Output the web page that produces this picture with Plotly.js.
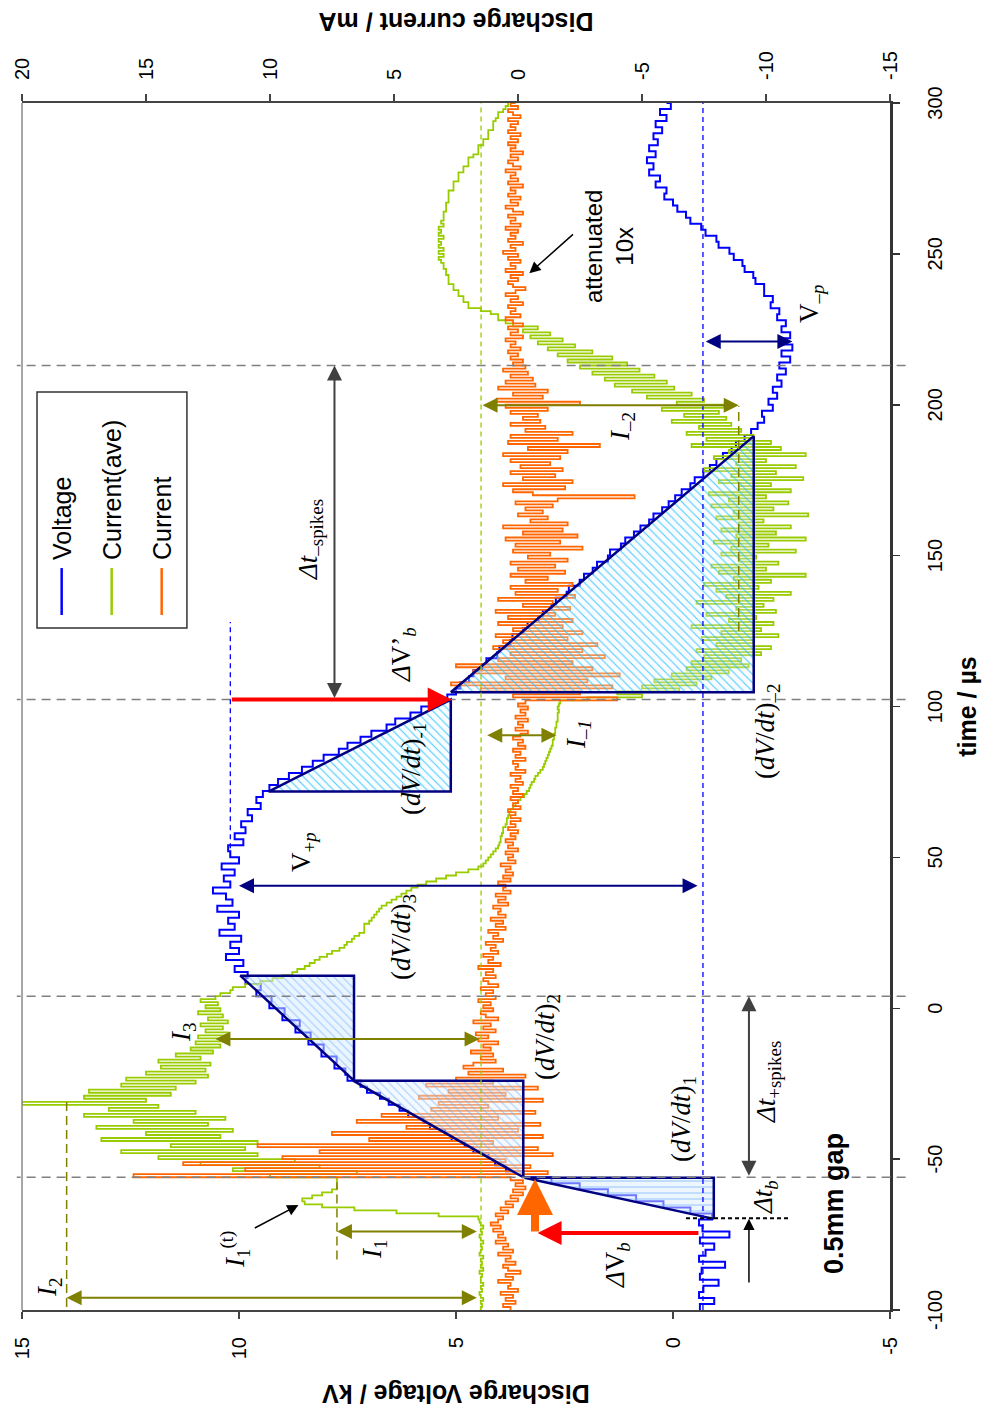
<!DOCTYPE html>
<html>
<head>
<meta charset="utf-8">
<script src="https://cdn.plot.ly/plotly-3.0.1.min.js"></script>
<style>
html,body{margin:0;padding:0;width:1002px;height:1426px;overflow:hidden;background:#fff;}
#wrap{position:absolute;left:0;top:0;width:1426px;height:1002px;transform-origin:0 0;transform:translateY(1426px) rotate(-90deg);}
#chart{width:1426px;height:1002px;}
</style>
</head>
<body>
<div id="wrap"><div id="chart"></div></div>
<script>
// ---------------- DATA ----------------
const T_START = -100;          // µs, first sample
const V_STEP = 2;              // µs between voltage samples
const I_STEP = 1;              // µs between current samples

const seriesNames = ['Voltage', 'Current(ave)', 'Current'];

const timeTickVals = [-100, -50, 0, 50, 100, 150, 200, 250, 300];
const timeTickText = ['-100', '-50', '0', '50', '100', '150', '200', '250', '300'];
const voltTickVals = [-5, 0, 5, 10, 15];
const voltTickText = ['-5', '0', '5', '10', '15'];
const currTickVals = [-15, -10, -5, 0, 5, 10, 15, 20];
const currTickText = ['-15', '-10', '-5', '0', '5', '10', '15', '20'];

const voltage_kV = [
-0.62,-0.95,-0.6,-0.7,-1.05,-0.62,-0.66,-1.2,-0.6,-0.75,-0.95,-0.62,-1.3,-0.68,-0.6,-0.9,
-0.4,0.22,0.85,1.5,2.15,2.8,3.45,
3.85,4.1,4.25,4.6,4.8,5.1,5.25,5.6,5.75,6.1,6.3,6.55,6.75,7.05,7.2,7.5,
7.55,7.8,7.75,8.1,8.05,8.4,8.35,8.7,8.6,9.0,8.95,9.3,9.25,9.6,9.5,9.85,9.8,
10.1,9.9,10.3,10.0,10.2,9.95,10.45,10.1,10.25,10.0,10.5,10.15,10.3,10.6,10.2,
10.35,10.1,10.4,10.0,10.2,10.25,9.9,10.1,9.85,9.95,9.7,9.8,9.5,9.6,9.45,9.3,
9.1,8.85,8.55,8.3,8.05,7.7,7.5,7.2,6.95,6.6,6.4,6.05,5.8,5.5,5.2,
5.0,4.9,4.7,4.6,4.4,4.3,4.05,4.0,3.75,3.7,3.45,3.35,3.1,3.0,2.8,2.7,2.45,2.4,2.15,2.05,1.85,1.75,1.5,1.45,1.2,1.1,0.9,0.75,0.55,0.45,0.25,0.1,-0.05,-0.2,-0.4,-0.5,-0.7,-0.85,-1.0,-1.15,-1.35,-1.45,-1.65,-1.8,
-1.95,-2.1,-2.05,-2.3,-2.2,-2.4,-2.3,-2.5,-2.4,-2.6,-2.45,-2.7,-2.5,-2.75,-2.55,-2.7,-2.5,-2.6,-2.4,-2.45,-2.25,-2.3,-2.1,-2.1,-1.9,-1.85,-1.65,-1.6,-1.4,-1.3,-1.05,-1.0,-0.75,-0.65,-0.4,-0.3,-0.1,0.0,0.2,0.15,0.4,0.3,0.55,0.45,0.6,0.4,0.55,0.35,0.45,0.25,0.4,0.15,0.3,0.05,0.15
];

const currentAve_mA = [
1.5,1.45,1.5,1.4,1.5,1.55,1.45,1.5,1.4,1.5,1.5,1.45,1.55,1.4,1.5,1.45,1.5,1.4,1.55,1.5,1.45,1.5,1.4,1.5,1.55,1.45,1.5,1.4,1.5,1.55,
1.6,3.2,4.9,6.6,7.9,8.6,8.7,8.3,7.9,7.5,7.3,7.3,7.3,7.3,
10.0,6.5,11.5,8.0,12.8,9.0,14.5,10.5,16.0,11.0,14.0,10.5,16.8,12.0,15.0,11.5,17.0,12.5,15.5,11.8,
17.5,13.0,16.5,14.5,20.0,15.0,17.5,14.0,17.3,13.8,16.0,13.0,15.8,12.5,15.0,12.6,14.4,12.4,14.5,12.8,
13.8,12.3,13.2,12.0,13.0,11.8,12.9,11.7,12.6,11.9,12.8,11.7,12.5,11.9,12.9,12.0,12.6,12.1,12.8,12.2,12.0,11.6,
11.5,11.0,10.4,9.9,9.5,9.1,8.9,8.6,8.4,8.2,8.0,7.7,7.5,7.2,7.0,6.9,6.7,6.6,6.4,6.2,
6.2,6.2,6.0,5.9,5.8,5.7,5.6,5.5,5.3,5.1,4.9,4.7,4.5,4.3,4.05,3.7,3.3,2.9,2.5,2.0,
1.6,1.4,1.3,1.2,1.1,1.0,0.9,0.8,0.75,0.7,0.7,0.65,0.6,0.6,0.5,0.45,0.45,0.4,0.35,0.3,
0.2,0.1,0.0,-0.1,-0.25,-0.35,-0.45,-0.5,-0.55,-0.65,-0.7,-0.8,-0.9,-1.0,-1.05,-1.1,-1.15,-1.2,-1.25,-1.3,
-1.35,-1.4,-1.4,-1.45,-1.45,-1.5,-1.5,-1.55,-1.55,-1.6,-1.6,-1.6,-1.65,-1.6,-1.65,-1.7,
-2.8,-5.0,-4.0,-6.5,-5.0,-7.2,-5.5,-7.8,-6.2,-8.5,-6.8,-9.3,-7.0,-9.0,-7.5,-9.8,-7.2,-10.2,-8.0,-9.5,
-7.4,-10.5,-8.2,-9.8,-7.0,-10.3,-8.5,-9.6,-7.6,-10.4,-8.8,-9.9,-7.2,-10.3,-8.4,-11.0,-8.0,-9.7,-7.5,-10.2,
-8.7,-11.6,-8.1,-10.0,-7.8,-10.5,-8.9,-9.6,-8.2,-11.2,-8.6,-10.1,-7.9,-11.6,-8.8,-10.4,-8.2,-11.0,-8.9,-9.9,
-8.0,-11.7,-8.7,-10.3,-7.8,-10.9,-8.5,-10.0,-7.7,-11.0,-8.9,-10.2,-8.1,-11.5,-8.6,-10.4,-7.5,-11.2,-8.8,-10.0,
-7.9,-11.6,-8.5,-10.6,-7.0,-10.2,-7.6,-9.5,-6.8,-9.0,-7.3,-8.6,-6.2,-8.4,-6.7,-8.1,-5.8,-8.3,-6.4,
-7.5,-5.2,-7.0,-4.6,-6.3,-3.9,-6.0,-3.5,-5.5,-3.0,-4.9,-2.5,-4.4,-2.0,-3.8,-1.6,-3.0,-1.2,-2.3,-0.8,
-1.8,-0.5,-1.3,-0.2,-0.8,0.2,0.5,0.8,0.8,1.1,1.5,2.0,2.0,2.2,2.2,2.4,2.4,2.6,2.6,2.8,
2.8,2.8,2.9,2.9,3.0,3.0,3.1,3.2,3.0,3.2,3.0,3.2,3.1,3.2,3.0,3.2,3.1,3.2,3.0,3.1,
3.0,3.0,3.0,2.9,2.9,2.9,2.8,2.8,2.8,2.8,2.6,2.6,2.6,2.4,2.4,2.4,2.2,2.2,2.0,2.0,
2.0,1.8,1.6,1.6,1.6,1.4,1.4,1.2,1.2,1.2,1.0,1.0,1.0,0.9,0.8,0.8,0.6,0.5,0.4,0.4
];

const current_mA = [
0.3,0.6,0.1,0.5,0.2,0.7,0.0,0.4,0.3,0.8,0.2,0.5,-0.1,0.4,0.6,0.1,0.5,0.3,0.8,0.2,
0.6,0.4,0.9,0.5,0.8,0.6,1.0,0.7,1.1,0.8,0.6,0.9,0.4,0.7,0.2,0.5,0.0,0.3,-0.2,0.2,
-0.3,0.1,-0.2,0.3,
15.5,-1.2,11.0,-0.5,13.5,0.5,9.5,-1.4,8.0,-0.8,10.5,1.0,6.0,-1.0,7.5,0.0,4.5,-0.9,6.5,0.8,
5.5,-0.7,3.5,1.2,3.2,-1.0,4.0,0.5,2.8,-0.8,3.7,1.0,2.5,-0.3,2.0,0.6,2.2,
1.8,0.9,1.5,1.0,1.9,1.1,1.4,0.8,1.6,1.2,1.7,0.9,1.4,1.1,1.8,0.8,1.3,1.5,1.0,1.4,
1.1,1.6,0.9,1.3,1.0,1.5,0.8,1.2,1.4,0.9,1.3,1.0,1.6,0.7,1.2,1.0,1.4,0.8,1.1,0.9,
1.3,0.6,1.0,0.8,1.2,0.5,0.9,0.6,1.1,0.5,0.8,0.7,1.0,0.4,0.8,0.5,0.9,0.3,0.6,0.5,
0.8,0.3,0.6,0.2,0.5,0.3,0.7,0.1,0.4,0.2,0.5,0.0,0.4,0.2,0.5,0.1,0.3,0.0,0.4,0.1,
0.3,-0.1,0.3,0.1,0.4,-0.1,0.2,0.0,0.3,-0.2,0.2,0.0,0.3,-0.2,0.1,-0.1,0.3,-0.3,0.1,0.0,
0.2,-0.3,0.1,-0.1,0.2,-0.3,0.0,-0.2,0.2,-0.1,-0.4,0.1,-0.2,0.0,-0.4,0.1,-0.3,-0.1,-0.4,0.0,
-0.3,
-4.0,0.2,-2.5,1.5,-3.8,2.7,-2.8,0.5,-4.1,1.8,-3.0,2.5,-2.2,0.8,-3.5,0.3,-2.6,1.0,-3.2,0.6,
-2.0,0.9,-2.6,0.2,-1.8,0.8,-2.2,0.4,-1.5,0.9,-2.1,-0.2,-1.4,0.8,-2.3,0.1,-1.6,0.3,-2.2,-0.3,
-1.2,0.3,-1.9,0.0,-1.5,0.3,-2.0,-0.4,-1.3,0.2,-2.6,0.1,-1.7,0.5,-2.4,-0.2,-1.8,0.6,-2.0,-0.5,
-1.2,0.0,-1.0,-0.3,-1.4,0.1,-1.6,-4.7,-0.6,0.2,-1.9,0.6,-2.2,-0.2,-1.5,0.3,-1.8,-0.1,-1.3,0.3,
-1.7,0.6,-2.0,-0.4,-3.3,0.4,-1.6,0.3,-2.2,-0.3,-1.1,0.3,-0.9,-0.2,-0.8,0.3,-1.2,0.5,-2.5,0.86,
-1.0,0.2,-1.2,0.8,-0.7,0.5,-0.6,0.3,-0.4,0.6,-0.3,0.2,-0.2,0.3,
0.0,0.4,-0.1,0.3,0.1,0.5,-0.2,0.3,0.0,0.4,-0.2,0.2,0.5,-0.1,0.3,0.1,0.4,-0.2,0.3,0.0,
0.5,0.1,-0.3,0.2,0.4,0.0,0.3,-0.2,0.5,0.1,0.3,-0.1,0.4,0.0,0.6,0.1,0.3,-0.2,0.4,0.1,
0.3,0.0,0.5,-0.1,0.3,0.1,0.4,-0.2,0.2,0.5,0.0,0.3,-0.1,0.4,0.1,0.3,-0.2,0.4,0.0,0.3,
0.1,0.5,-0.1,0.2,0.4,0.0,0.3,-0.2,0.3,0.1,0.4,0.0,0.3,-0.1,0.4,0.1,0.3,0.0,0.4,-0.1,
0.2,0.4,0.0,0.3,0.1
];

// slope triangles (time µs, voltage kV)
const tri1_t = [-69.8, -56.2, -56.2], tri1_v = [-0.94, -0.94, 3.42];
const tri2_t = [-56.0, -24.0, -24.0], tri2_v = [3.45, 3.45, 7.37];
const tri3_t = [-24.0, 10.8, 10.8],   tri3_v = [7.35, 7.35, 9.97];
const triM1_t = [71.8, 71.8, 102.3],  triM1_v = [9.32, 5.12, 5.12];
const triM2_t = [104.7, 104.7, 189.6], triM2_v = [5.12, -1.86, -1.86];

// reference levels
const V_base = -0.69, V_peak = 10.2, I_base = 1.49;
const I1_level = 7.3, I2_level = 18.2, Im2_level = -8.9;
const spikeTimes = [-56, 4, 102.3, 213];

// ---------------- BUILD ----------------
const tV = voltage_kV.map((_, i) => T_START + i * V_STEP);
const tI = current_mA.map((_, i) => T_START + i * I_STEP);
const tIa = currentAve_mA.map((_, i) => T_START + i * I_STEP);

const SANS = 'Liberation Sans, Arial, Helvetica, sans-serif';
const SERIF = 'Liberation Serif, Times New Roman, serif';
const NAVY = '#000080', OLIVE = '#808000', RED = '#FF0000', ORANGE = '#FF6600', GREEN = '#99CC00', BLUE = '#0000FF';
const seriesColors = [BLUE, GREEN, ORANGE];

function tri(t, v, shape, fg, bg, sol) {
  return {x: t.concat([t[0]]), y: v.concat([v[0]]), yaxis: 'y3', mode: 'lines', fill: 'toself',
    line: {color: NAVY, width: 2.5}, fillcolor: bg,
    fillpattern: {shape: shape, fgcolor: fg, bgcolor: bg, size: 6, solidity: sol, fillmode: 'replace'},
    showlegend: false, hoverinfo: 'skip'};
}

const traces = [
  {x: tV, y: voltage_kV, name: seriesNames[0], mode: 'lines', line: {color: BLUE, width: 2, shape: 'hv'}, yaxis: 'y', showlegend: false},
  {x: tIa, y: currentAve_mA, name: seriesNames[1], mode: 'lines', line: {color: GREEN, width: 1.8, shape: 'hv'}, yaxis: 'y2', showlegend: false},
  {x: tI, y: current_mA, name: seriesNames[2], mode: 'lines', line: {color: ORANGE, width: 1.8, shape: 'hv'}, yaxis: 'y2', showlegend: false},
  tri(tri1_t, tri1_v, '|', 'rgba(110,175,255,0.6)', 'rgba(220,238,255,0.5)', 0.2),
  tri(tri2_t, tri2_v, '/', 'rgba(110,175,255,0.6)', 'rgba(230,242,255,0.45)', 0.18),
  tri(tri3_t, tri3_v, '/', 'rgba(110,175,255,0.6)', 'rgba(215,235,255,0.5)', 0.18),
  tri(triM1_t, triM1_v, '/', 'rgba(30,190,255,0.8)', 'rgba(235,248,255,0.35)', 0.18),
  tri(triM2_t, triM2_v, '/', 'rgba(30,190,255,0.8)', 'rgba(235,248,255,0.3)', 0.18)
];

function hline(xa, xb, y, yref, color, width, dash) {
  return {type: 'line', xref: 'x', yref: yref, x0: xa, x1: xb, y0: y, y1: y, line: {color, width, dash}, layer: 'above'};
}
const shapes = [];
spikeTimes.forEach(t => shapes.push({type: 'line', xref: 'x', yref: 'paper', x0: t, x1: t, y0: -0.018, y1: 1.006,
  line: {color: '#808080', width: 1.6, dash: '9px,6px'}, layer: 'above'}));
shapes.push(hline(-100, 300, V_base, 'y', BLUE, 1.3, '5px,4px'));
shapes.push(hline(50, 128, V_peak, 'y', BLUE, 1.3, '5px,4px'));
shapes.push(hline(-70, 300, I_base, 'y2', GREEN, 1.3, '5px,4px'));
shapes.push(hline(-83.3, -57.7, I1_level, 'y2', OLIVE, 1.5, '9px,5px'));
shapes.push(hline(-99, -31, I2_level, 'y2', OLIVE, 1.5, '9px,5px'));
shapes.push(hline(125, 199.5, Im2_level, 'y2', OLIVE, 1.5, '9px,5px'));
shapes.push({type: 'line', xref: 'x', yref: 'y', x0: -69.6, x1: -69.6, y0: -0.3, y1: -2.65, line: {color: '#000', width: 2, dash: '4px,3px'}, layer: 'above'});
// frame line on the unused side
shapes.push({type: 'line', xref: 'paper', yref: 'paper', x0: 0, x1: 1, y0: 1, y1: 1, line: {color: '#888', width: 1.5}, layer: 'above'});

// hand-drawn legend box (paper coordinates)
const LEG = {x0: 0.565, x1: 0.7606, y0: 0.810, y1: 0.9827, lx0: 0.5758, lx1: 0.6147, tx: 0.6197, ys: [0.9543, 0.8967, 0.8391]};
shapes.push({type: 'rect', xref: 'paper', yref: 'paper', x0: LEG.x0, x1: LEG.x1, y0: LEG.y0, y1: LEG.y1,
  line: {color: '#333', width: 1.5}, fillcolor: '#fff', layer: 'above'});
seriesNames.forEach((n, i) => shapes.push({type: 'line', xref: 'paper', yref: 'paper', x0: LEG.lx0, x1: LEG.lx1,
  y0: LEG.ys[i], y1: LEG.ys[i], line: {color: seriesColors[i], width: 2.5}, layer: 'above'}));

function arrow(x, y, ax, ay, yref, color, width, size, both) {
  return {x, y, ax, ay, xref: 'x', yref, axref: 'x', ayref: yref, text: '', showarrow: true,
    arrowhead: 2, arrowsize: size, arrowwidth: width, arrowcolor: color,
    arrowside: both ? 'end+start' : 'end', startarrowhead: 2, startarrowsize: size};
}
function label(x, y, text, size, family, color) {
  return {x, y, xref: 'x', yref: 'y', text, showarrow: false,
    font: {family: family || SERIF, size: size || 27, color: color || '#000'}, xanchor: 'center', yanchor: 'middle'};
}

const annotations = [
  arrow(-95.9, I2_level, -95.9, 1.6, 'y2', OLIVE, 2, 1.5, true),
  arrow(-74, I1_level, -74, 1.6, 'y2', OLIVE, 2, 1.5, true),
  arrow(-10.2, 12.2, -10.2, I_base, 'y2', OLIVE, 2, 1.5, true),
  arrow(90.5, -1.55, 90.5, 1.3, 'y2', OLIVE, 2, 1.5, true),
  arrow(199.8, Im2_level, 199.8, I_base, 'y2', OLIVE, 2, 1.5, true),
  arrow(40.6, 10.0, 40.6, -0.6, 'y', NAVY, 2, 1.5, true),
  arrow(221, -2.75, 221, -0.72, 'y', NAVY, 2, 1.5, true),
  arrow(213, 7.8, 102.3, 7.8, 'y', '#404040', 2, 1.5, true),
  arrow(4, -1.75, -56, -1.75, 'y', '#404040', 2, 1.5, true),
  arrow(-69.8, -1.75, -91.4, -1.75, 'y', '#000', 1.5, 1.5, false),
  arrow(-56.6, 3.18, -74.5, 3.18, 'y', ORANGE, 8, 0.9, false),
  arrow(-74.5, 3.12, -74.5, -0.62, 'y', RED, 4, 1.2, false),
  arrow(102.3, 5.1, 102.3, V_peak, 'y', RED, 4, 1.2, false),
  arrow(-65.2, 8.63, -73.1, 9.67, 'y', '#000', 1.5, 1.5, false),
  arrow(243.6, 3.31, 256.9, 2.27, 'y', '#000', 1.5, 1.5, false),

  label(-92.4, 14.37, '<i>I</i><sub>2</sub>'),
  label(-79.8, 10.1, '<i>I</i><sub>1</sub><sup>(t)</sup>'),
  label(-79.8, 6.9, '<i>I</i><sub>1</sub>'),
  label(-8.1, 11.3, '<i>I</i><sub>3</sub>'),
  label(-85, 1.29, '<i>Δ</i>V<sub><i>b</i></sub>'),
  label(-62.5, -2.11, '<i>Δt</i><sub><i>b</i></sub>'),
  label(-64.8, -3.72, '<b>0.5mm gap</b>', 27, SANS),
  label(-24.4, -2.2, '<i>Δt</i><sub>+spikes</sub>'),
  label(-36.6, -0.23, '(<i>dV</i>/<i>dt</i>)<sub>1</sub>'),
  label(-9.5, 2.9, '(<i>dV</i>/<i>dt</i>)<sub>2</sub>'),
  label(23.7, 6.22, '(<i>dV</i>/<i>dt</i>)<sub>3</sub>'),
  label(79.4, 6.0, '(<i>dV</i>/<i>dt</i>)<sub>-1</sub>'),
  label(91.7, -2.16, '(<i>dV</i>/<i>dt</i>)<sub>–2</sub>'),
  label(51.9, 8.52, 'V<sub>+<i>p</i></sub>'),
  label(117.2, 6.22, '<i>Δ</i>V’<sub><i>b</i></sub>'),
  label(155.4, 8.36, '<i>Δt</i><sub>–spikes</sub>'),
  label(90.7, 2.2, '<i>I</i><sub><i>–1</i></sub>'),
  label(192.9, 1.17, '<i>I</i><sub>–2</sub>'),
  label(233.3, -3.19, 'V<sub>–<i>p</i></sub>'),
  label(252.6, 1.47, 'attenuated<br>10x', 24, SANS)
];
seriesNames.forEach((n, i) => annotations.push({x: LEG.tx, y: LEG.ys[i], xref: 'paper', yref: 'paper', text: n,
  showarrow: false, xanchor: 'left', yanchor: 'middle', font: {family: SANS, size: 25, color: '#000'}}));

const axisCommon = {showgrid: false, zeroline: false, showline: true, ticks: 'outside', ticklen: 7, tickwidth: 1.5,
  tickmode: 'array', tickfont: {family: SANS, size: 20, color: '#000'}};

const layout = {
  width: 1426, height: 1002,
  margin: {l: 116, r: 103, t: 22, b: 112},
  paper_bgcolor: '#fff', plot_bgcolor: '#fff',
  showlegend: false,
  xaxis: Object.assign({}, axisCommon, {range: [-100, 300], tickvals: timeTickVals, ticktext: timeTickText,
    linecolor: '#333', linewidth: 2.5, tickcolor: '#333', ticklabelstandoff: 18,
    title: {text: '<b>time / µs</b>', font: {family: SANS, size: 25, color: '#000'}, standoff: 14}}),
  yaxis: Object.assign({}, axisCommon, {range: [-5, 15], tickvals: voltTickVals, ticktext: voltTickText,
    linecolor: '#444', linewidth: 2, tickcolor: '#444', ticklabelstandoff: 14,
    title: {text: '<b>Discharge Voltage / kV</b>', font: {family: SANS, size: 25, color: '#000'}, standoff: 18}}),
  yaxis2: Object.assign({}, axisCommon, {range: [-15, 20], tickvals: currTickVals, ticktext: currTickText,
    overlaying: 'y', side: 'right', anchor: 'x',
    linecolor: '#444', linewidth: 2, tickcolor: '#444', ticklabelstandoff: 10,
    title: {text: '<b>Discharge current / mA</b>', font: {family: SANS, size: 25, color: '#000'}, standoff: 22}}),
  yaxis3: {range: [-5, 15], overlaying: 'y', anchor: 'x', visible: false, showgrid: false, zeroline: false},
  shapes: shapes,
  annotations: annotations
};

Plotly.newPlot('chart', traces, layout, {staticPlot: true, displayModeBar: false, responsive: false});
</script>
</body>
</html>
